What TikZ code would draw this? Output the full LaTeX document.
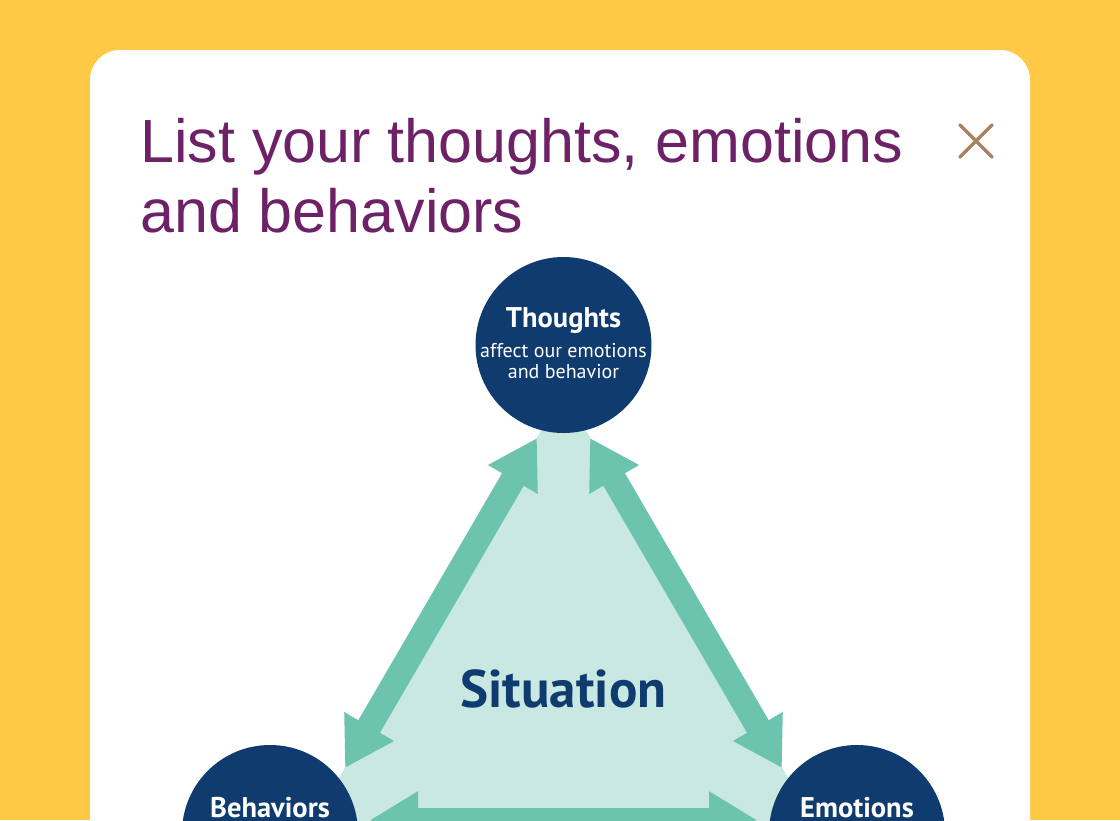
\documentclass[tikz,border=0pt]{standalone}
\usepackage{fontspec}
\setmainfont{Liberation Sans}
\newfontfamily\dinfont{PT Sans}
\usetikzlibrary{arrows.meta,calc}

\definecolor{bgyellow}{HTML}{FFC845}
\definecolor{titlepurple}{HTML}{6D2267}
\definecolor{closebrown}{HTML}{A8825F}
\definecolor{navy}{HTML}{0F3B6E}
\definecolor{mint}{HTML}{6CC4AE}
\definecolor{lightmint}{HTML}{C8E8E1}

\begin{document}
\begin{tikzpicture}[x=1pt, y=1pt,
    main/.style = {circle, fill=navy, minimum size=176pt, inner sep=0pt},
    headline/.style = {anchor=base west, inner sep=0pt, text=titlepurple, font=\fontsize{61}{72}\selectfont},
    circlename/.style = {anchor=base, inner sep=0pt, text=white, font=\dinfont\bfseries\fontsize{28.5}{30}\selectfont},
    circledesc/.style = {anchor=base, inner sep=0pt, text=white, font=\dinfont\fontsize{20}{22}\selectfont},
    twoway/.style = {draw=mint, line width=25pt, {Triangle[length=48pt,width=54pt]}-{Triangle[length=48pt,width=54pt]}}]
    \useasboundingbox (0,0) rectangle (1120,-820);
    \clip (0,0) rectangle (1120,-820);
    \fill[bgyellow] (0,0) rectangle (1120,-820);
    \fill[white, rounded corners=30pt] (90,-50) rectangle (1030,-900);

    % heading and close icon
    \node[headline] (title1) at (140,-162) {List your thoughts, emotions};
    \node[headline] (title2) at ($(title1.base west)+(0,-70)$) {and behaviors};
    \node (close) [minimum size=32pt, inner sep=0pt] at (976,-141) {};
    \draw[closebrown, line width=3.5pt, line cap=round] (close.north west) -- (close.south east) (close.north east) -- (close.south west);

    % situation triangle
    \fill[lightmint] (563.5,-392) -- (268,-900) -- (859,-900) -- cycle;
    \node[anchor=base, text=navy, font=\dinfont\bfseries\fontsize{53}{60}\selectfont] (situation) at (563.5,-707) {Situation};

    \node[main] (T) at (563.5,-345) {};
    \node[main] (B) at (270,-833) {};
    \node[main] (E) at (857,-833) {};

    \coordinate (TL) at ($(T)+(-26.5,-93)$);
    \coordinate (TR) at ($(T)+(26.5,-93)$);
    \coordinate (BT) at ($(B)+(75,65)$);
    \coordinate (BR) at ($(B)+(100,13)$);
    \coordinate (ET) at ($(E)+(-75,65)$);
    \coordinate (EL) at ($(E)+(-100,13)$);

    \draw[twoway] (TL) -- (BT);
    \draw[twoway] (TR) -- (ET);
    \draw[twoway] (BR) -- (EL);

    % circle texts
    \node[circlename] (Tname) at ($(T)+(0,18)$) {Thoughts};
    \node[circledesc] (Tdesc1) at ($(T)+(0,-12)$) {affect our emotions};
    \node[circledesc] (Tdesc2) at ($(T)+(0,-33)$) {and behavior};
    \node[circlename] (Bname) at ($(B)+(0,16)$) {Behaviors};
    \node[circlename] (Ename) at ($(E)+(0,16)$) {Emotions};
\end{tikzpicture}
\end{document}
